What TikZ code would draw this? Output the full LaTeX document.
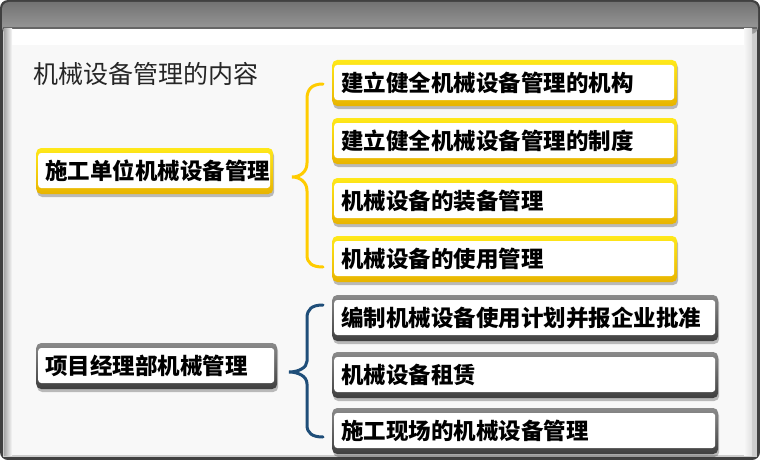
\documentclass[tikz,border=0pt]{standalone}
\usepackage{fontspec}
\newfontfamily\cjk{Noto Sans CJK SC}
\usetikzlibrary{shadows}
\definecolor{ytop}{HTML}{FFE81A}
\definecolor{ybot}{HTML}{E8B400}
\definecolor{gtop}{HTML}{8A8A8A}
\definecolor{gbot}{HTML}{3F3F3F}
\definecolor{ybr}{HTML}{FFCC00}
\definecolor{bbr}{HTML}{1F4E79}
\definecolor{content}{HTML}{F8F8F8}
\tikzset{
  basebox/.style={rounded corners=5pt, draw=none, anchor=west, minimum height=46pt,
    inner xsep=9pt, inner ysep=0pt, align=left,
    font=\cjk\bfseries\fontsize{22.5}{26}\selectfont, text=black,
    drop shadow={shadow xshift=1pt, shadow yshift=-3pt, fill=black, opacity=0.25},
    path picture={\fill[white, rounded corners=3pt]
      ([shift={(2pt,-5pt)}]path picture bounding box.north west) rectangle
      ([shift={(-3pt,6pt)}]path picture bounding box.south east);}},
  ybox/.style={basebox, top color=ytop, bottom color=ybot},
  gbox/.style={basebox, top color=gtop, bottom color=gbot},
  ybrace/.style={draw=ybr, line width=3pt, line cap=round},
  bbrace/.style={draw=bbr, line width=3pt, line cap=round},
}
\begin{document}
\begin{tikzpicture}[x=1pt,y=-1pt]
\useasboundingbox (0,0) rectangle (760,460);
% frame
\fill[white] (0,0) rectangle (760,460);
\fill[black!75, rounded corners=8pt] (0,0) rectangle (760,460);
\fill[black!20] (3,20) rectangle (757,457);
\shade[top color=black!55, bottom color=black!38, rounded corners=7pt] (2,2) rectangle (758,34);
\fill[black!60] (3,27) rectangle (757,29);
\fill[content] (6,29) rectangle (751,455);
\fill[white] (6,29) rectangle (751,45);
\shade[left color=black!35, right color=content] (4,29) rectangle (12,455);
\shade[left color=content, right color=black!12] (744,29) rectangle (752,455);
% title
\node[anchor=west, font=\cjk\fontsize{25}{29}\selectfont, text=black!85] (title) at (30,74) {机械设备管理的内容};
% left boxes
\node[ybox, text width=219pt] (a) at (36,171) {施工单位机械设备管理};
\node[gbox, text width=223pt] (b) at (36,366) {项目经理部机械管理};
% right boxes
\node[ybox, text width=327pt] (a1) at (332,83) {建立健全机械设备管理的机构};
\node[ybox, text width=327pt] (a2) at (332,141) {建立健全机械设备管理的制度};
\node[ybox, text width=327pt] (a3) at (332,201) {机械设备的装备管理};
\node[ybox, text width=327pt] (a4) at (332,259) {机械设备的使用管理};
\node[gbox, text width=368pt] (b1) at (332,318) {编制机械设备使用计划并报企业批准};
\node[gbox, text width=368pt] (b2) at (332,375) {机械设备租赁};
\node[gbox, text width=368pt] (b3) at (332,431) {施工现场的机械设备管理};
% braces
\draw[ybrace] (323,84) .. controls (312,84) and (307,89) .. (307,99) -- (307,163)
  .. controls (307,172) and (300,177) .. (292,177)
  .. controls (300,177) and (307,182) .. (307,191) -- (307,255)
  .. controls (307,263) and (312,267) .. (323,267);
\draw[bbrace] (323,305) .. controls (312,305) and (307,309) .. (307,318) -- (307,361)
  .. controls (307,368) and (298,372) .. (289,372)
  .. controls (298,372) and (307,376) .. (307,384) -- (307,425)
  .. controls (307,433) and (312,437) .. (323,437);
\end{tikzpicture}
\end{document}
